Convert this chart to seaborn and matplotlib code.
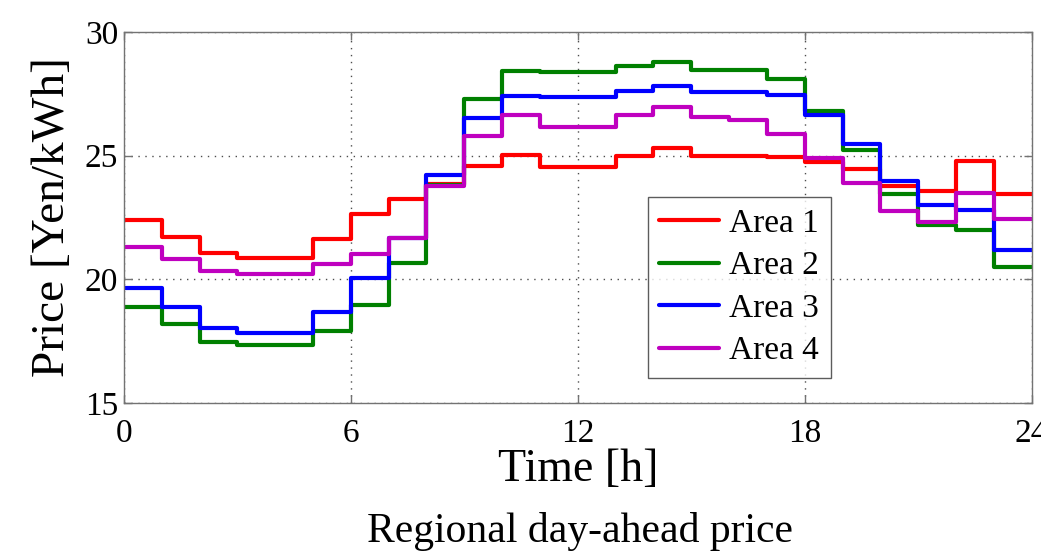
import matplotlib
matplotlib.use("Agg")
import matplotlib.pyplot as plt
import pandas as pd
import seaborn as sns

# hourly regional day-ahead price [Yen/kWh], value held over each hour
hours = list(range(25))
area1 = [22.38, 21.71, 21.07, 20.85, 20.85, 21.63, 22.65, 23.26, 23.87, 24.57,
         25.04, 24.54, 24.54, 25.00, 25.31, 24.97, 24.97, 24.93, 24.74, 24.46,
         23.76, 23.56, 24.77, 23.45]
area2 = [18.88, 18.17, 17.47, 17.32, 17.32, 17.92, 18.97, 20.66, 23.80, 27.30,
         28.44, 28.38, 28.38, 28.64, 28.80, 28.48, 28.48, 28.11, 26.82, 25.24,
         23.46, 22.18, 21.98, 20.50]
area3 = [19.63, 18.87, 18.03, 17.84, 17.84, 18.66, 20.03, 21.67, 24.20, 26.52,
         27.43, 27.36, 27.36, 27.63, 27.80, 27.57, 27.59, 27.45, 26.65, 25.49,
         23.99, 22.99, 22.79, 21.17]
area4 = [21.29, 20.82, 20.32, 20.22, 20.22, 20.62, 21.04, 21.67, 23.76, 25.81,
         26.66, 26.16, 26.16, 26.63, 26.97, 26.56, 26.43, 25.89, 24.90, 23.90,
         22.75, 22.30, 23.49, 22.45]
labels = ["Area 1", "Area 2", "Area 3", "Area 4"]
colors = ["#ff0000", "#008000", "#0000ff", "#bf00bf"]

rows = []
for name, vals in zip(labels, [area1, area2, area3, area4]):
    vals = vals + [vals[-1]]  # extend last step to 24 h
    for h, v in zip(hours, vals):
        rows.append({"hour": h, "price": v, "area": name})
df = pd.DataFrame(rows)

sns.set_style("ticks")
plt.rcParams["font.family"] = ["Liberation Serif", "DejaVu Serif"]
plt.rcParams["text.color"] = "black"
plt.rcParams["axes.labelcolor"] = "black"
plt.rcParams["xtick.labelcolor"] = "black"
plt.rcParams["ytick.labelcolor"] = "black"

fig = plt.figure(figsize=(10.41, 5.54), dpi=100)
ax = fig.add_axes([0.119, 0.273, 0.872, 0.669])

sns.lineplot(data=df, x="hour", y="price", hue="area", palette=colors,
             drawstyle="steps-post", linewidth=3, ax=ax)

ax.set_xlim(0, 24)
ax.set_ylim(15, 30)
ax.set_xticks([0, 6, 12, 18, 24])
ax.set_yticks([15, 20, 25, 30])
ax.tick_params(direction="in", top=True, right=True, labelsize=24,
               length=6, width=1, color="0.45")
ax.tick_params(axis="x", pad=11)
ax.tick_params(axis="y", pad=4)
ax.grid(True, linestyle=(0, (1, 4)), color="0.3", linewidth=1)
for s in ax.spines.values():
    s.set_color("0.45")
    s.set_linewidth(1)

ax.set_xlabel("Time [h]", fontsize=33, labelpad=0)
ax.set_ylabel("Price [Yen/kWh]", fontsize=34, labelpad=8)

leg = ax.legend(loc="lower left", bbox_to_anchor=(0.577, 0.067), fontsize=24,
                frameon=True, fancybox=False, handlelength=1.8,
                borderpad=0.35, labelspacing=0.36, handletextpad=0.3,
                borderaxespad=0)
leg.get_frame().set_edgecolor("0.2")
leg.get_frame().set_linewidth(1)
for line in leg.get_lines():
    line.set_linewidth(3)

fig.text(0.557, 0.04, "Regional day-ahead price", ha="center", va="center",
         fontsize=30)

fig.savefig("out.png", dpi=100)
